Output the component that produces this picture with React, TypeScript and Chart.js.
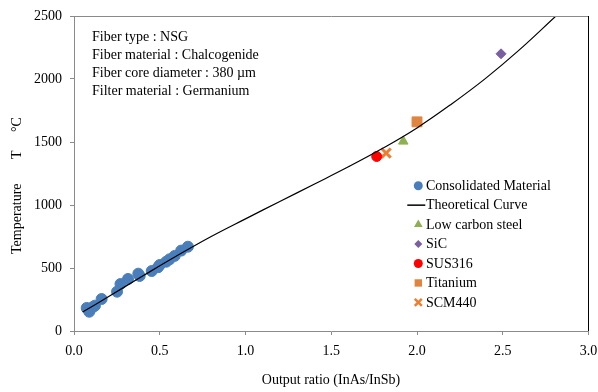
import React, { useEffect, useRef } from "react";
import { Chart, registerables } from "chart.js";

Chart.register(...registerables);

// ---- data ----
const consolidatedX = [0.074, 0.089, 0.11, 0.122, 0.161, 0.251, 0.271, 0.315, 0.383, 0.375, 0.453, 0.49, 0.5, 0.538, 0.557, 0.587, 0.625, 0.664];
const consolidatedY = [183, 153, 190, 201, 254, 312, 373, 413, 437, 455, 476, 506, 524, 550, 569, 596, 638, 669];

const curveX = [0.05, 0.2, 0.4, 0.6, 0.8, 1.0, 1.2, 1.4, 1.6, 1.8, 2.0, 2.2, 2.4, 2.6, 2.81];
const curveY = [150, 272, 436, 597, 750, 890, 1028, 1165, 1303, 1450, 1612, 1800, 2005, 2235, 2500];

const lowCarbonSteel = { x: 1.92, y: 1505 };
const sic = { x: 2.49, y: 2200 };
const sus316 = { x: 1.765, y: 1385 };
const titanium = { x: 2.0, y: 1660 };
const scm440 = { x: 1.82, y: 1412 };

const xTickValues = [0, 0.5, 1.0, 1.5, 2.0, 2.5, 3.0];
const yTickValues = [0, 500, 1000, 1500, 2000, 2500];

const seriesNames = ["Consolidated Material", "Theoretical Curve", "Low carbon steel", "SiC", "SUS316", "Titanium", "SCM440"];
const infoLines = ["Fiber type : NSG", "Fiber material : Chalcogenide", "Fiber core diameter : 380 µm", "Filter material : Germanium"];
const xTitle = "Output ratio (InAs/InSb)";
const yTitleParts = ["Temperature", "T", "°C"];

// ---- styles ----
const FONT = "'Liberation Serif', 'Times New Roman', serif";
const BLUE = "#4A7EBB";
const GREEN = "#8FB052";
const PURPLE = "#7A5FA0";
const RED = "#FF0000";
const ORANGE_SQ = "#E0853F";
const ORANGE_X = "#ED7D31";
const AXIS = "#8A8A8A";

function drawMarker(ctx: CanvasRenderingContext2D, kind: string, x: number, y: number, r: number, color: string) {
  ctx.save();
  ctx.fillStyle = color;
  ctx.strokeStyle = color;
  ctx.beginPath();
  if (kind === "circle") {
    ctx.arc(x, y, r, 0, Math.PI * 2);
    ctx.fill();
  } else if (kind === "triangle") {
    ctx.moveTo(x, y - r);
    ctx.lineTo(x + r * 0.866, y + r * 0.5);
    ctx.lineTo(x - r * 0.866, y + r * 0.5);
    ctx.closePath();
    ctx.fill();
  } else if (kind === "diamond") {
    ctx.moveTo(x, y - r);
    ctx.lineTo(x + r, y);
    ctx.lineTo(x, y + r);
    ctx.lineTo(x - r, y);
    ctx.closePath();
    ctx.fill();
  } else if (kind === "square") {
    ctx.rect(x - r, y - r, 2 * r, 2 * r);
    ctx.fill();
  } else if (kind === "cross") {
    ctx.lineWidth = 2.5;
    ctx.moveTo(x - r, y - r);
    ctx.lineTo(x + r, y + r);
    ctx.moveTo(x + r, y - r);
    ctx.lineTo(x - r, y + r);
    ctx.stroke();
  } else if (kind === "line") {
    ctx.lineWidth = 1.5;
    ctx.strokeStyle = "#000";
    ctx.moveTo(x - 11, y);
    ctx.lineTo(x + 7, y);
    ctx.stroke();
  }
  ctx.restore();
}

const overlayPlugin = {
  id: "overlay",
  afterDraw(chart: any) {
    const { ctx, chartArea: a } = chart;
    ctx.save();
    // plot frame: top (gray) and right (black)
    ctx.lineWidth = 1;
    ctx.strokeStyle = AXIS;
    ctx.beginPath();
    ctx.moveTo(a.left, Math.round(a.top) + 0.5);
    ctx.lineTo(a.right, Math.round(a.top) + 0.5);
    ctx.stroke();
    ctx.strokeStyle = "#000";
    ctx.beginPath();
    ctx.moveTo(Math.round(a.right) - 0.5, a.top);
    ctx.lineTo(Math.round(a.right) - 0.5, a.bottom);
    ctx.stroke();

    ctx.fillStyle = "#000";
    ctx.font = `14px ${FONT}`;
    ctx.textBaseline = "middle";
    ctx.textAlign = "left";

    // info box text
    infoLines.forEach((t, i) => ctx.fillText(t, 92, 37.5 + i * 17.8));

    // legend
    const kinds = ["circle", "line", "triangle", "diamond", "circle", "square", "cross"];
    const colors = [BLUE, "#000", GREEN, PURPLE, RED, ORANGE_SQ, ORANGE_X];
    const sizes = [4.5, 0, 5, 4, 4.5, 3.7, 3.5];
    seriesNames.forEach((name, i) => {
      const y = 185.7 + i * 19.45;
      drawMarker(ctx, kinds[i], 418.3, y, sizes[i], colors[i]);
      ctx.fillStyle = "#000";
      ctx.fillText(name, 426, y + 0.5);
    });

    // x title
    ctx.textAlign = "center";
    ctx.fillText(xTitle, 331, 380);

    // y title (rotated)
    ctx.translate(17, 0);
    ctx.rotate(-Math.PI / 2);
    ctx.textAlign = "left";
    ctx.fillText(yTitleParts[0], -254, 0);
    ctx.fillText(yTitleParts[1], -159, 0);
    ctx.fillText(yTitleParts[2], -132, 0);
    ctx.restore();
  },
};

export default function App() {
  const ref = useRef<HTMLCanvasElement | null>(null);

  useEffect(() => {
    if (!ref.current) return;
    const pt = (x: number, y: number) => ({ x, y });
    const chart = new Chart(ref.current, {
      type: "scatter",
      data: {
        datasets: [
          {
            label: seriesNames[1],
            data: curveX.map((x, i) => pt(x, curveY[i])),
            showLine: true,
            borderColor: "#000",
            borderWidth: 1.2,
            pointRadius: 0,
            tension: 0.4,
            order: 0,
          } as any,
          {
            label: seriesNames[0],
            data: consolidatedX.map((x, i) => pt(x, consolidatedY[i])),
            backgroundColor: BLUE,
            borderColor: BLUE,
            pointRadius: 5.5,
            pointStyle: "circle",
            order: 1,
          },
          {
            label: seriesNames[2],
            data: [lowCarbonSteel],
            backgroundColor: GREEN,
            borderColor: GREEN,
            pointRadius: 5.5,
            pointStyle: "triangle",
            order: 1,
          },
          {
            label: seriesNames[3],
            data: [sic],
            backgroundColor: PURPLE,
            borderColor: PURPLE,
            pointRadius: 5,
            pointStyle: "rectRot",
            order: 1,
          },
          {
            label: seriesNames[4],
            data: [sus316],
            backgroundColor: RED,
            borderColor: RED,
            pointRadius: 5,
            pointStyle: "circle",
            order: 1,
          },
          {
            label: seriesNames[5],
            data: [titanium],
            backgroundColor: ORANGE_SQ,
            borderColor: ORANGE_SQ,
            pointRadius: 7,
            pointStyle: "rect",
            order: 1,
          },
          {
            label: seriesNames[6],
            data: [scm440],
            backgroundColor: ORANGE_X,
            borderColor: ORANGE_X,
            borderWidth: 3,
            pointRadius: 6.5,
            pointStyle: "crossRot",
            order: 1,
          },
        ],
      },
      options: {
        animation: false,
        responsive: false,
        layout: { padding: { top: 16, right: 7, left: 0, bottom: 0 } },
        plugins: { legend: { display: false }, tooltip: { enabled: false } },
        scales: {
          x: {
            type: "linear",
            min: 0,
            max: 3,
            afterBuildTicks: (s: any) => {
              s.ticks = xTickValues.map((v) => ({ value: v }));
            },
            afterFit: (s: any) => {
              s.height = 61;
              s.paddingLeft = 0;
              s.paddingRight = 0;
            },
            ticks: {
              color: "#000",
              font: { family: FONT, size: 14 },
              padding: 8,
              maxRotation: 0,
              callback: (v: any) => Number(v).toFixed(1),
            },
            grid: { display: true, drawOnChartArea: false, drawTicks: true, tickLength: 4, color: AXIS },
            border: { display: true, color: AXIS, width: 1 },
          },
          y: {
            type: "linear",
            min: 0,
            max: 2500,
            afterBuildTicks: (s: any) => {
              s.ticks = yTickValues.map((v) => ({ value: v }));
            },
            afterFit: (s: any) => {
              s.width = 74;
              s.paddingTop = 0;
              s.paddingBottom = 0;
            },
            ticks: {
              color: "#000",
              font: { family: FONT, size: 14 },
              padding: 8,
              callback: (v: any) => String(v),
            },
            grid: { display: true, drawOnChartArea: false, drawTicks: true, tickLength: 4, color: AXIS },
            border: { display: true, color: AXIS, width: 1 },
          },
        },
      },
      plugins: [overlayPlugin],
    });
    return () => chart.destroy();
  }, []);

  return (
    <div style={{ position: "fixed", left: 0, top: 0, width: 598, height: 392, background: "#fff" }}>
      <canvas ref={ref} width={598} height={392} style={{ width: 598, height: 392, display: "block" }} />
    </div>
  );
}
